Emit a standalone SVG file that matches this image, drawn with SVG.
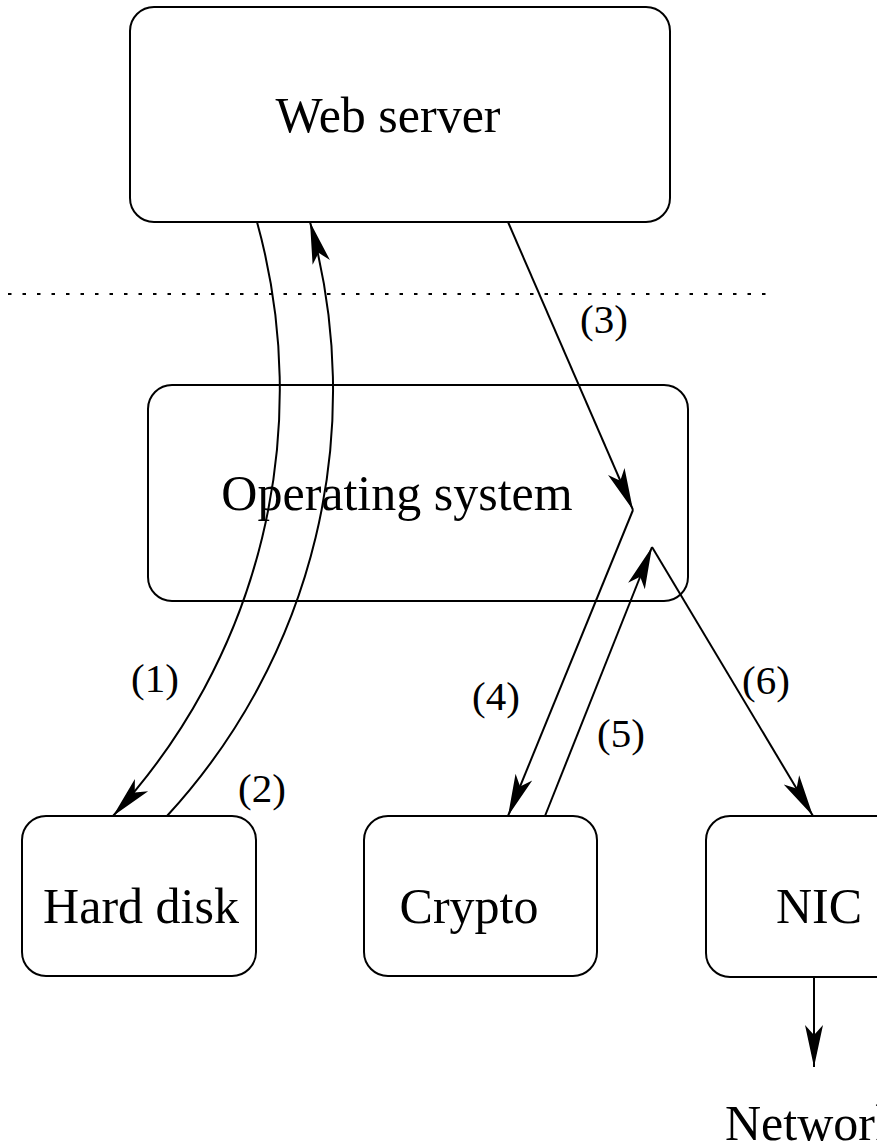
<svg xmlns="http://www.w3.org/2000/svg" width="877" height="1147" viewBox="0 0 877 1147">
<style>
.box{fill:#fff;stroke:#000;stroke-width:2}
.lbl{font-family:"Liberation Serif","Times New Roman",serif;font-size:50px;fill:#000}
.num{font-family:"Liberation Serif","Times New Roman",serif;font-size:41px;fill:#000;text-anchor:middle}
.c{fill:none;stroke:#000;stroke-width:2;marker-end:url(#ah)}
</style>
<defs>
<marker id="ah" markerUnits="userSpaceOnUse" viewBox="-44 -10 46 20" markerWidth="46" markerHeight="20" refX="0" refY="0" orient="auto">
<path d="M0,0 L-42,-9 L-32,0 L-42,9 Z" fill="#000"/>
</marker>
</defs>
<rect width="877" height="1147" fill="#fff"/>
<line x1="8" y1="294" x2="776" y2="294" stroke="#000" stroke-width="2" stroke-dasharray="3.5 11"/>
<g id="web-server"><rect class="box" x="130" y="7" width="540" height="215" rx="24"/><text class="lbl" x="388" y="132" text-anchor="middle">Web server</text></g>
<g id="operating-system"><rect class="box" x="148" y="385" width="540" height="216" rx="24"/><text class="lbl" x="397" y="510" text-anchor="middle">Operating system</text></g>
<g id="hard-disk"><rect class="box" x="22" y="816" width="234" height="160" rx="24"/><text class="lbl" x="141" y="923" text-anchor="middle">Hard disk</text></g>
<g id="crypto"><rect class="box" x="364" y="816" width="233" height="160" rx="24"/><text class="lbl" x="469" y="923" text-anchor="middle">Crypto</text></g>
<g id="nic"><rect class="box" x="706" y="816" width="233" height="161" rx="24"/><text class="lbl" x="819" y="923" text-anchor="middle">NIC</text></g>
<g id="network"><text class="lbl" x="725" y="1140">Network</text></g>
<g id="connectors">
<path class="c" d="M257,222 A628,628 0 0 1 113,816"/>
<path class="c" d="M167,816 A628,628 0 0 0 310,222"/>
<path class="c" d="M508,222 L633,510"/>
<path class="c" d="M633,510 L508,816"/>
<path class="c" d="M545,816 L652,547"/>
<path class="c" d="M652,547 L813,816"/>
<path class="c" d="M814,977 L814,1067"/>
</g>
<g id="labels">
<text class="num" x="155" y="692">(1)</text>
<text class="num" x="262" y="802">(2)</text>
<text class="num" x="604" y="333">(3)</text>
<text class="num" x="496" y="710">(4)</text>
<text class="num" x="621" y="747">(5)</text>
<text class="num" x="766" y="694">(6)</text>
</g>
</svg>
